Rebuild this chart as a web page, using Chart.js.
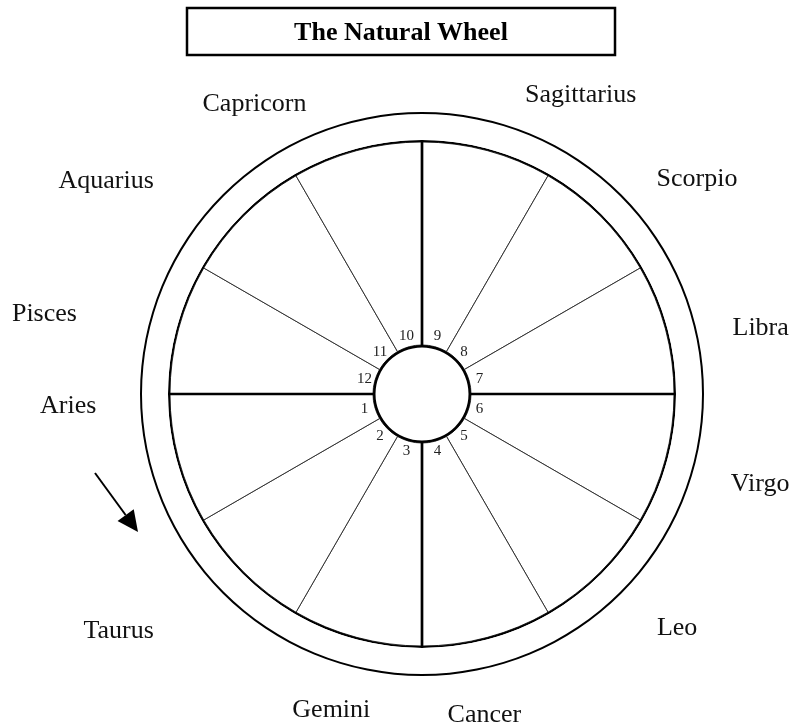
<!DOCTYPE html>
<html>
<head>
<meta charset="utf-8">
<title>The Natural Wheel</title>
<script src="https://cdn.jsdelivr.net/npm/chart.js@4.4.1/dist/chart.umd.min.js"></script>
<style>
  html, body { margin: 0; padding: 0; background: #fff; }
  #wrap { position: relative; width: 792px; height: 727px; }
</style>
</head>
<body>
<div id="wrap"><canvas id="wheel"></canvas></div>
<script>
const chartTitle = 'The Natural Wheel';

// houses and signs in natural (counter-clockwise) order, starting at the ascendant
const houses = ['1', '2', '3', '4', '5', '6', '7', '8', '9', '10', '11', '12'];
const houseDegrees = [30, 30, 30, 30, 30, 30, 30, 30, 30, 30, 30, 30];
const signs = ['Aries', 'Taurus', 'Gemini', 'Cancer', 'Leo', 'Virgo',
               'Libra', 'Scorpio', 'Sagittarius', 'Capricorn', 'Aquarius', 'Pisces'];
const signDegrees = [30, 30, 30, 30, 30, 30, 30, 30, 30, 30, 30, 30];
const angularHouses = ['1', '4', '7', '10'];

// chart.js lays slices out clockwise, the wheel runs the other way
const cw = arr => arr.slice().reverse();

const serif = '"Liberation Serif", "Times New Roman", serif';

// thin filled ring = one circle of the wheel
const circleRing = (w) => ({
  data: [360], weight: w, backgroundColor: '#000', borderWidth: 0
});

const wheelDecor = {
  id: 'wheelDecor',
  afterDatasetsDraw(chart, args, opts) {
    const ctx = chart.ctx;
    ctx.save();

    // heavy lines on the angular cusps (1, 4, 7, 10)
    const houseArcs = chart.getDatasetMeta(3).data;
    ctx.strokeStyle = '#000';
    ctx.lineWidth = opts.cuspWidth;
    houseArcs.forEach((arc, i) => {
      if (!angularHouses.includes(chart.data.labels[i])) return;
      const a = arc.endAngle;
      ctx.beginPath();
      ctx.moveTo(arc.x + arc.innerRadius * Math.cos(a), arc.y + arc.innerRadius * Math.sin(a));
      ctx.lineTo(arc.x + arc.outerRadius * Math.cos(a), arc.y + arc.outerRadius * Math.sin(a));
      ctx.stroke();
    });

    // house numbers just outside the hub
    ctx.fillStyle = '#222';
    ctx.font = opts.houseFont;
    ctx.textAlign = 'center';
    ctx.textBaseline = 'middle';
    houseArcs.forEach((arc, i) => {
      const mid = (arc.startAngle + arc.endAngle) / 2;
      const r = arc.innerRadius + opts.houseGap;
      ctx.fillText(chart.data.labels[i], arc.x + r * Math.cos(mid), arc.y + r * Math.sin(mid));
    });

    // sign names around the outside
    const signSet = chart.data.datasets[1];
    ctx.fillStyle = '#111';
    ctx.font = opts.signFont;
    chart.getDatasetMeta(1).data.forEach((arc, i) => {
      const name = signSet.names[i];
      const k = signs.indexOf(name);
      const mid = (arc.startAngle + arc.endAngle) / 2 - opts.signShift[k] * Math.PI / 180;
      const r = arc.outerRadius + opts.signGap[k];
      ctx.fillText(name, arc.x + r * Math.cos(mid), arc.y + r * Math.sin(mid));
    });
    ctx.restore();
  },
  afterDraw(chart, args, opts) {
    const ctx = chart.ctx;
    ctx.save();
    // boxed title
    const b = opts.titleBox;
    ctx.strokeStyle = '#000';
    ctx.lineWidth = 2.5;
    ctx.strokeRect(b.x, b.y, b.w, b.h);
    ctx.fillStyle = '#000';
    ctx.font = 'bold 26px ' + serif;
    ctx.textAlign = 'center';
    ctx.textBaseline = 'middle';
    ctx.fillText(chartTitle, b.x + b.w / 2, b.y + b.h / 2 + 2);

    // direction arrow
    const [x0, y0] = opts.arrow.from;
    const [x1, y1] = opts.arrow.to;
    const ang = Math.atan2(y1 - y0, x1 - x0);
    const len = opts.arrow.head, half = opts.arrow.half;
    const bx = x1 - len * Math.cos(ang), by = y1 - len * Math.sin(ang);
    ctx.lineWidth = 2;
    ctx.beginPath();
    ctx.moveTo(x0, y0);
    ctx.lineTo(bx, by);
    ctx.stroke();
    ctx.beginPath();
    ctx.moveTo(x1, y1);
    ctx.lineTo(bx + half * Math.sin(ang), by - half * Math.cos(ang));
    ctx.lineTo(bx - half * Math.sin(ang), by + half * Math.cos(ang));
    ctx.closePath();
    ctx.fill();
    ctx.restore();
  }
};

const ctx = document.getElementById('wheel');

const wheel = new Chart(ctx, {
  type: 'doughnut',
  data: {
    labels: cw(houses),
    datasets: [
      circleRing(2),
      {
        // zodiac band
        data: cw(signDegrees),
        names: cw(signs),
        weight: 26,
        backgroundColor: '#fff',
        borderWidth: 0
      },
      circleRing(2),
      {
        // the twelve houses
        data: cw(houseDegrees),
        weight: 203,
        order: 1,
        backgroundColor: '#fff',
        borderColor: '#333',
        borderWidth: 1
      },
      circleRing(2.5)
    ]
  },
  options: {
    responsive: true,
    maintainAspectRatio: false,
    animation: false,
    events: [],
    rotation: 270,
    radius: 282,
    cutout: '16.49%',
    layout: { padding: { left: 122, right: 70, top: 94, bottom: 33 } },
    plugins: {
      legend: { display: false },
      tooltip: { enabled: false },
      wheelDecor: {
        cuspWidth: 2.7,
        houseFont: '15px ' + serif,
        houseGap: 10.5,
        signFont: '26px ' + serif,
        signShift: [-13, -7, -1, -4, 2.5, 0, -4, -7, -13, 15, 11, 3],
        signGap: [74, 105, 49, 47, 66, 70, 65, 69, 58, 55, 101, 106],
        titleBox: { x: 187, y: 8, w: 428, h: 47 },
        arrow: { from: [95, 473], to: [138, 532], head: 21, half: 10 }
      }
    }
  },
  plugins: [wheelDecor]
});
</script>
</body>
</html>
